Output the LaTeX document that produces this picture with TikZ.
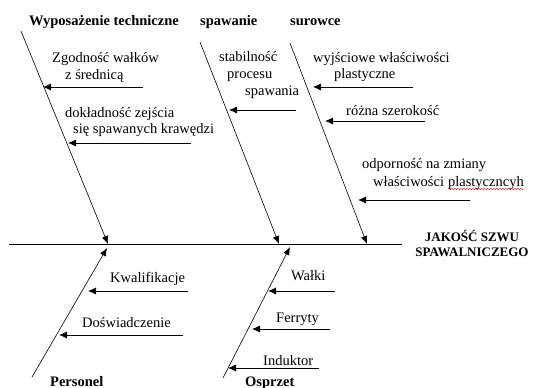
\documentclass[tikz,border=0pt]{standalone}
\usepackage{fontspec}
\setmainfont{Liberation Serif}
\usetikzlibrary{arrows.meta,positioning,decorations.pathmorphing}

\begin{document}
\begin{tikzpicture}[x=1pt,y=-1pt,
  bone/.style={line width=0.6pt,-{Latex[length=8pt,width=6.5pt]}},
  branch/.style={line width=0.8pt,-{Latex[length=8pt,width=7pt]}},
  lbl/.style={font=\fontsize{14.5}{17}\selectfont,inner sep=0pt,anchor=base west},
  cause/.style={font=\bfseries\fontsize{14.5}{17}\selectfont,inner sep=0pt,anchor=base west},
  effect/.style={font=\bfseries\fontsize{13}{16}\selectfont,inner sep=0pt,anchor=base}]
\useasboundingbox (0,0) rectangle (546,388);
\coordinate (sw) at (9,244);
\coordinate (se) at (402,244);
\draw[line width=0.6pt] (sw)--(se);
\coordinate (t1) at (21,31);  \coordinate (j1) at (108,244);
\coordinate (t2) at (200,42); \coordinate (j2) at (279,244);
\coordinate (t3) at (290,43); \coordinate (j3) at (367,244);
\coordinate (b1) at (32,377); \coordinate (k1) at (107,248);
\coordinate (b2) at (223,378); \coordinate (k2) at (290,247);
\foreach \a/\b in {t1/j1,t2/j2,t3/j3,b1/k1,b2/k2}
  \draw[bone] (\a)--(\b);
\foreach \n/\xa/\xb/\y in {zg/143/43/87,dk/191/68/143,st/296/229/110,wy/413/313/87,rs/425/325/121,od/470/358/200,kw/188/88/291,ds/183/59/335,wa/335/268/291,fe/330/252/329,ind/319/228/368}
{
  \coordinate (\n s) at (\xa,\y);
  \coordinate (\n e) at (\xb,\y);
  \draw[branch] (\n s)--(\n e);
}
\node[cause] (wyp) at (29,25) {Wyposażenie techniczne};
\node[cause] (spa) at (200,25) {spawanie};
\node[cause] (sur) at (290,25) {surowce};
\node[cause] (per) at (50,386) {Personel};
\node[cause] (osp) at (245,386) {Osprzet};
\node[effect] (ef1) at (472,241) {JAKOŚĆ SZWU};
\node[effect] (ef2) at (472,256) {SPAWALNICZEGO};
\node[lbl] (zg1) at (52,62) {Zgodność wałków};
\node[lbl] (zg2) at (65,79) {z średnicą};
\node[lbl] (dk1) at (65,117) {dokładność zejścia};
\node[lbl] (dk2) at (73,133) {się spawanych krawędzi};
\node[lbl] (st1) at (219,61) {stabilność};
\node[lbl] (st2) at (227,78) {procesu};
\node[lbl] (st3) at (245,95) {spawania};
\node[lbl] (wy1) at (313,62) {wyjściowe właściwości};
\node[lbl] (wy2) at (334,78) {plastyczne};
\node[lbl] (rs1) at (346,115) {różna szerokość};
\node[lbl] (od1) at (362,168) {odporność na zmiany};
\node[lbl] (od2) at (373,186) {właściwości};
\node[lbl,base right=3.6pt of od2] (od3) {plastyczncyh};
\draw[red,line width=0.4pt,decorate,decoration={snake,amplitude=0.7pt,segment length=3pt}]
  ([yshift=-3pt]od3.base west)--([yshift=-3pt]od3.base east);
\node[lbl] (kw1) at (110,282) {Kwalifikacje};
\node[lbl] (ds1) at (82,327) {Doświadczenie};
\node[lbl] (wa1) at (291,280) {Wałki};
\node[lbl] (fe1) at (276,322) {Ferryty};
\node[lbl] (ind1) at (263,365) {Induktor};
\end{tikzpicture}
\end{document}
